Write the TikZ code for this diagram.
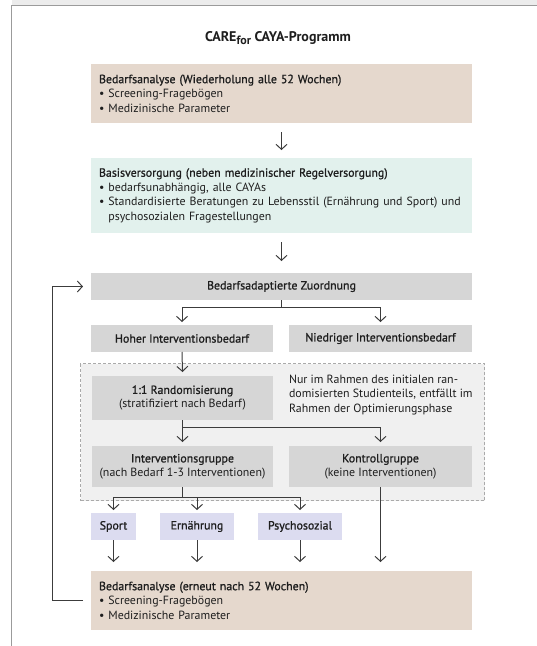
\documentclass[tikz,border=0pt]{standalone}
\usepackage{fontspec}
\setmainfont{PT Sans}
\newfontfamily\medfont{PT Sans}[FakeBold=1]
\usetikzlibrary{arrows.meta}
\definecolor{beigec}{RGB}{229,216,205}
\definecolor{mintc}{RGB}{226,241,237}
\definecolor{grayc}{RGB}{214,214,214}
\definecolor{regionc}{RGB}{240,240,240}
\definecolor{dashc}{RGB}{170,170,170}
\definecolor{lavc}{RGB}{220,220,240}
\definecolor{linec}{RGB}{60,60,60}
\definecolor{txtc}{RGB}{30,30,30}
\definecolor{framec}{RGB}{155,155,155}
\definecolor{bandc}{RGB}{236,236,236}
\begin{document}
\begin{tikzpicture}[x=1pt,y=-1pt,
  every node/.style={inner sep=0pt, outer sep=0pt, text=txtc},
  txt/.style={font=\fontsize{11.9}{14.5}\selectfont},
  bigbox/.style={txt, anchor=north west, minimum width=381pt, text width=365pt, inner xsep=8pt, align=left},
  gbox/.style={txt, anchor=north west, fill=grayc, align=center},
  twoline/.style={font=\fontsize{11.9}{14}\selectfont},
  lbox/.style={txt, anchor=north west, fill=lavc, minimum height=27pt, align=center},
  line/.style={draw=linec, line width=1pt},
  arr/.style={line, -{Straight Barb[length=5pt,width=11pt]}}]
\useasboundingbox (0,0) rectangle (537,646);
\fill[bandc] (12,0) rectangle (537,5);
\draw[framec, line width=1.5pt] (11.5,646) -- (11.5,5.5) -- (537,5.5);

\node[font=\fontsize{14}{16}\bfseries\selectfont] (title) at (278,38)
  {CARE\raisebox{-3pt}{\fontsize{12}{12}\bfseries\selectfont for} CAYA-Programm};

\node[bigbox, fill=beigec, minimum height=59pt] (ba1) at (91,64)
  {{\medfont Bedarfsanalyse (Wiederholung alle 52 Wochen)}\\ • Screening-Fragebögen\\ • Medizinische Parameter};

\node[bigbox, fill=mintc, minimum height=75pt] (basis) at (91,158)
  {{\medfont Basisversorgung (neben medizinischer Regelversorgung)}\\ • bedarfsunabhängig, alle CAYAs\\ • Standardisierte Beratungen zu Lebensstil (Ernährung und Sport) und\\ \phantom{• }psychosozialen Fragestellungen};

\node[gbox, minimum width=381pt, minimum height=27pt] (zu) at (91,273) {\medfont Bedarfsadaptierte Zuordnung};
\node[gbox, minimum width=182pt, minimum height=27pt] (hoher) at (91,325) {\medfont Hoher Interventionsbedarf};
\node[gbox, minimum width=183pt, minimum height=27pt] (nied) at (289,325) {\medfont Niedriger Interventionsbedarf};

\node[draw=dashc, dash pattern=on 3pt off 2pt, line width=1pt, fill=regionc, anchor=north west,
  minimum width=404pt, minimum height=137pt] (reg) at (80.5,363.5) {};

\node[gbox, twoline, minimum width=181pt, minimum height=44pt] (rand) at (92,376)
  {{\medfont 1:1 Randomisierung}\\(stratifiziert nach Bedarf)};
\node[txt, anchor=west, align=left] (note) at (289,395)
  {Nur im Rahmen des initialen ran-\\domisierten Studienteils, entfällt im\\Rahmen der Optimierungsphase};
\node[gbox, twoline, minimum width=181pt, minimum height=41pt] (ig) at (92,446)
  {{\medfont Interventionsgruppe}\\(nach Bedarf 1-3 Interventionen)};
\node[gbox, twoline, minimum width=183pt, minimum height=41pt] (kg) at (289,446)
  {{\medfont Kontrollgruppe}\\(keine Interventionen)};

\node[lbox, minimum width=45pt] (sport) at (91,513) {\medfont Sport};
\node[lbox, minimum width=74pt] (ern) at (160,513) {\medfont Ernährung};
\node[lbox, minimum width=84pt] (psy) at (258,513) {\medfont Psychosozial};

\node[bigbox, fill=beigec, minimum height=59pt] (ba2) at (91,571)
  {{\medfont Bedarfsanalyse (erneut nach 52 Wochen)}\\ • Screening-Fragebögen\\ • Medizinische Parameter};

\coordinate (bt) at ([yshift=9pt]ba2.north);

\draw[arr] ([yshift=-9pt]ba1.south) -- ([yshift=8pt]basis.north);
\draw[arr] ([yshift=-9pt]basis.south) -- ([yshift=12pt]zu.north);
\draw[line] (zu.south) -- ++(0,7) coordinate (zf);
\draw[arr] (zf) -| ([yshift=3pt]hoher.north);
\draw[arr] (zf) -| ([yshift=3pt]nied.north);
\draw[arr] (hoher.south) -- ([yshift=4pt]rand.north);
\draw[line] (rand.south) -- ++(0,7) coordinate (rf);
\draw[arr] (rf) -| ([yshift=4pt]ig.north);
\draw[arr] (rf) -| ([yshift=4pt]kg.north);
\draw[line] (ig.south) -- ++(0,10) coordinate (igf);
\draw[arr] (igf) -| ([yshift=3pt]sport.north);
\draw[arr] (igf) -| ([yshift=3pt]ern.north);
\draw[arr] (igf) -| ([yshift=3pt]psy.north);
\draw[arr] (sport.south) -- (sport.south |- bt);
\draw[arr] (ern.south) -- (ern.south |- bt);
\draw[arr] (psy.south) -- (psy.south |- bt);
\draw[arr] (kg.south) -- (kg.south |- bt);
\draw[arr] ([xshift=-8pt]ba2.west) -- ++(-31,0) |- ([xshift=-8pt]zu.west);
\end{tikzpicture}
\end{document}
